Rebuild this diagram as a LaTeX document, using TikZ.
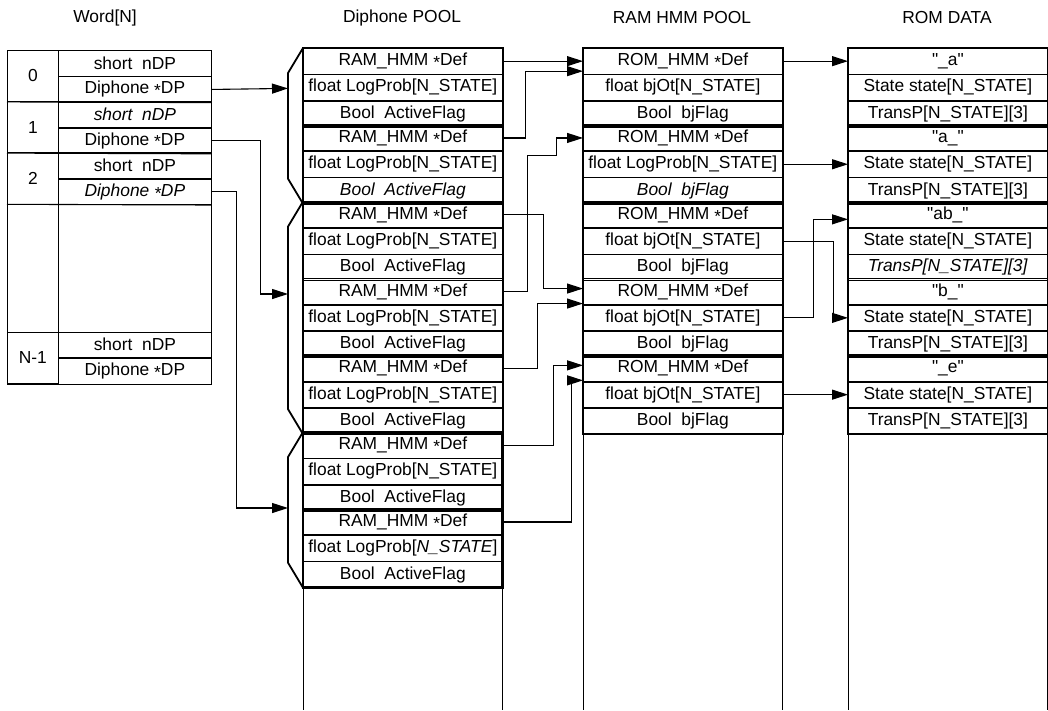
\documentclass[tikz,border=0pt]{standalone}
\usepackage{fontspec}
\setmainfont{Liberation Sans}
\usetikzlibrary{arrows.meta}

\newcommand{\ptr}{\raisebox{-.3ex}{*}}
\newcommand{\qq}[1]{\textquotedbl#1\textquotedbl}

\begin{document}
\begin{tikzpicture}[x=1pt, y=-1pt, >={Triangle[length=16pt,width=10pt]},
    font=\fontsize{17.4}{19}\selectfont,
    cell/.style={draw, line width=0.7pt, anchor=north west, inner sep=0pt,
        minimum width=199pt, minimum height=25.6pt},
    wcell/.style={cell, minimum width=153pt},
    widx/.style={cell, minimum width=51pt, minimum height=51.2pt},
    grp/.style={draw, line width=1.8pt},
    bracket/.style={line width=1.8pt, line join=miter},
    link/.style={->, line width=1.1pt},
    rail/.style={line width=0.6pt}]
    \useasboundingbox (0,0) rectangle (1048,710);
    \coordinate (floor) at (0,710);

    % titles
    \node (t-word) at (105,18) {Word[N]};
    \node (t-dp) at (402,18) {Diphone POOL};
    \node (t-ram) at (682,18) {RAM HMM POOL};
    \node (t-rom) at (947,18) {ROM DATA};

    % Word[N]
    \foreach \i/\y/\lab/\fa/\fb in {0/50/0/{short~~nDP}/{Diphone \ptr DP},
        1/101.2/1/{\textit{short~~nDP}}/{Diphone \ptr DP},
        2/152.4/2/{short~~nDP}/{\textit{Diphone \ptr DP}},
        3/331.6/N-1/{short~~nDP}/{Diphone \ptr DP}} {
        \node[widx] (w\i) at (7,\y) {\lab};
        \node[wcell] (w\i-n) at (58,\y) {\fa};
        \node[wcell] (w\i-dp) at (w\i-n.south west) {\fb};
    }
    \node[widx, minimum height=128pt] (wx) at (7,203.6) {};
    \node[wcell, minimum height=128pt] (wx-f) at (58,203.6) {};
    \foreach \i in {0,1,2}
        \draw[line width=1.1pt] (w\i.south west) -- (w\i-dp.south east);
    \draw[line width=1pt] (w0.north west) rectangle (w3-dp.south east);

    % Diphone POOL
    \foreach \g/\fm/\fb in {1/{float LogProb[N\_STATE]}/{Bool~~ActiveFlag},
        2/{float LogProb[N\_STATE]}/{\textit{Bool~~ActiveFlag}},
        3/{float LogProb[N\_STATE]}/{Bool~~ActiveFlag},
        4/{float LogProb[N\_STATE]}/{Bool~~ActiveFlag},
        5/{float LogProb[N\_STATE]}/{Bool~~ActiveFlag},
        6/{float LogProb[N\_STATE]}/{Bool~~ActiveFlag},
        7/{float LogProb[\textit{N\_STATE}]}/{Bool~~ActiveFlag}} {
        \node[cell] (dp\g-1) at (303,{48+(\g-1)*76.8}) {RAM\_HMM \ptr Def};
        \node[cell] (dp\g-2) at (dp\g-1.south west) {\fm};
        \node[cell] (dp\g-3) at (dp\g-2.south west) {\fb};
        \draw[grp] (dp\g-1.north west) rectangle (dp\g-3.south east);
    }
    \draw[line width=2.6pt] (dp6-1.north west) rectangle (dp7-3.south east);
    \foreach \a/\b in {1/2, 3/5, 6/7}
        \draw[bracket] (dp\a-1.north west) -- ++(-15,25)
            -- ([shift={(-15,-25)}]dp\b-3.south west) -- (dp\b-3.south west);
    \coordinate (br1) at (288,88.4);
    \coordinate (br2) at (288,294);
    \coordinate (br3) at (288,508);

    % RAM HMM POOL
    \foreach \g/\fm/\fb in {1/{float bjOt[N\_STATE]}/{Bool~~bjFlag},
        2/{float LogProb[N\_STATE]}/{\textit{Bool~~bjFlag}},
        3/{float bjOt[N\_STATE]}/{Bool~~bjFlag},
        4/{float bjOt[N\_STATE]}/{Bool~~bjFlag},
        5/{float bjOt[N\_STATE]}/{Bool~~bjFlag}} {
        \node[cell] (ram\g-1) at (583,{48+(\g-1)*76.8}) {ROM\_HMM \ptr Def};
        \node[cell] (ram\g-2) at (ram\g-1.south west) {\fm};
        \node[cell] (ram\g-3) at (ram\g-2.south west) {\fb};
        \draw[grp] (ram\g-1.north west) rectangle (ram\g-3.south east);
    }

    % ROM DATA
    \foreach \g/\nm/\fb in {1/{\qq{\_a}}/{TransP[N\_STATE][3]},
        2/{\qq{a\_}}/{TransP[N\_STATE][3]},
        3/{\qq{ab\_}}/{\textit{TransP[N\_STATE][3]}},
        4/{\qq{b\_}}/{TransP[N\_STATE][3]},
        5/{\qq{\_e}}/{TransP[N\_STATE][3]}} {
        \node[cell] (rom\g-1) at (848,{48+(\g-1)*76.8}) {\nm};
        \node[cell] (rom\g-2) at (rom\g-1.south west) {State state[N\_STATE]};
        \node[cell] (rom\g-3) at (rom\g-2.south west) {\fb};
        \draw[grp] (rom\g-1.north west) rectangle (rom\g-3.south east);
    }

    % free space below the pools
    \foreach \n in {dp7-3, ram5-3, rom5-3} {
        \draw[rail] (\n.south west) -- (\n.south west |- floor);
        \draw[rail] (\n.south east) -- (\n.south east |- floor);
    }

    % Word -> Diphone POOL
    \draw[link] (w0-dp.east) -- (br1);
    \draw[link] (w1-dp.east) -- ++(49,0) |- (br2);
    \draw[link] (w2-dp.east) -- ++(25,0) |- (br3);

    % Diphone POOL -> RAM HMM POOL
    \draw[link] (dp1-1.east) -- (ram1-1.west);
    \draw[link] (dp2-1.east) -- ++(23,0) |- ([yshift=-10pt]ram1-1.west);
    \draw[link] (dp4-1.east) -- ++(25,0) -- ++(0,-136) -- ++(29,0) |- (ram2-1.west);
    \draw[link] (dp3-1.east) -- ++(41,0) |- ([yshift=3pt]ram4-1.west);
    \draw[link] (dp5-1.east) -- ++(35,0) |- ([yshift=-12pt]ram4-1.west);
    \draw[link] (dp6-1.east) -- ++(51,0) |- ([yshift=3pt]ram5-1.west);
    \draw[link] (dp7-1.east) -- ++(69,0) |- ([yshift=-12pt]ram5-1.west);

    % RAM HMM POOL -> ROM DATA
    \draw[link] (ram1-1.east) -- (rom1-1.west);
    \draw[link] (ram2-2.east) -- (rom2-2.west);
    \draw[link] (ram3-2.east) -- ++(51,0) |- (rom4-2.west);
    \draw[link] (ram4-2.east) -- ++(31,0) |- ([yshift=-4.6pt]rom3-1.west);
    \draw[link] (ram5-2.east) -- (rom5-2.west);
\end{tikzpicture}
\end{document}
